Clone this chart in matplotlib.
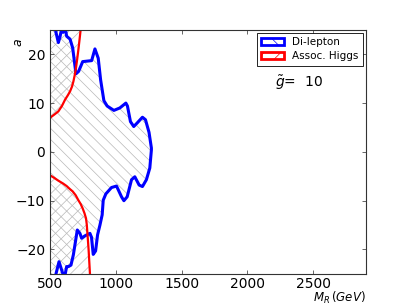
import matplotlib
matplotlib.use('Agg')
import matplotlib.pyplot as plt
from matplotlib.patches import Patch

# Di-lepton exclusion contour (upper branch then lower branch)
dilepton_x = [535, 545, 563, 575, 590, 600, 606, 615, 626, 652, 672, 685, 697, 717, 748,
              816, 841, 866, 884, 909, 934, 985, 1030, 1076, 1088, 1111, 1136, 1161, 1202,
              1225, 1252, 1270,
              1270, 1258, 1232, 1202, 1177, 1144, 1119, 1086, 1061, 1043, 1005, 967, 924,
              904, 896, 879, 861, 846, 828, 815, 803, 765, 740, 727, 707, 677, 659, 640,
              626, 612, 601, 568, 545, 538]
dilepton_y = [26, 24.5, 22.4, 23.5, 25.5, 24.5, 25.3, 25.5, 23.7, 23.1, 21.3, 18.5, 16.0,
              16.5, 18.5, 18.7, 21.1, 19.2, 14.8, 10.5, 9.4, 8.5, 9.0, 10.0, 9.4, 6.2, 5.2,
              5.9, 7.1, 6.6, 4.0, 0.8,
              0.4, -3.3, -5.7, -7.1, -6.8, -5.1, -5.7, -9.2, -10.0, -9.2, -7.0, -7.3, -8.6,
              -9.9, -12.9, -15.0, -17.0, -20.3, -21.0, -17.5, -16.7, -17.2, -17.7, -16.7,
              -16.0, -21.1, -23.2, -23.5, -23.5, -25.5, -25.3, -22.5, -25.0, -26]

# Associated Higgs contour
higgs_up_x = [500, 505, 530, 563, 590, 614, 635, 652, 667, 677, 688, 697, 706, 715, 724, 733, 737]
higgs_up_y = [6.9, 7.1, 7.6, 8.3, 9.4, 10.7, 11.6, 12.4, 13.4, 14.4, 15.8, 17.2, 19.0, 20.9,
              23.0, 25.2, 26]
higgs_lo_x = [500, 530, 563, 600, 626, 650, 672, 695, 715, 733, 748, 762, 773, 779, 783,
              788, 793, 798, 803, 805]
higgs_lo_y = [-4.8, -5.3, -5.9, -6.5, -7.0, -7.6, -8.1, -8.9, -9.9, -10.7, -11.6, -12.6,
              -13.6, -14.9, -16.4, -18.2, -20.1, -22.5, -24.9, -26]

xticks = [500, 1000, 1500, 2000, 2500]
yticks = [-20, -10, 0, 10, 20]

plt.rcParams['hatch.linewidth'] = 0.5
plt.rcParams['xtick.direction'] = 'in'
plt.rcParams['ytick.direction'] = 'in'

fig = plt.figure(figsize=(4.07, 3.05), dpi=100)
ax = fig.add_axes([0.123, 0.102, 0.776, 0.8])

# hatched exclusion regions
ax.fill([500] + dilepton_x + [500], [26] + dilepton_y + [-26],
        facecolor='none', edgecolor='0.72', hatch='\\\\\\', linewidth=0)
ax.fill(higgs_up_x + [500], higgs_up_y + [26],
        facecolor='none', edgecolor='0.72', hatch='///', linewidth=0)
ax.fill(higgs_lo_x + [500], higgs_lo_y + [-26],
        facecolor='none', edgecolor='0.72', hatch='///', linewidth=0)

ax.plot(dilepton_x, dilepton_y, color='blue', lw=2.2)
ax.plot(higgs_up_x, higgs_up_y, color='red', lw=1.6)
ax.plot(higgs_lo_x, higgs_lo_y, color='red', lw=1.6)

ax.set_xlim(500, 2900)
ax.set_ylim(-25, 25)
ax.set_xticks(xticks)
ax.set_yticks(yticks)
ax.tick_params(labelsize=10, top=True, right=True, length=3, width=0.6, color='0.3')
ax.tick_params(axis='x', pad=2)
for s in ax.spines.values():
    s.set_color('0.2')
    s.set_linewidth(0.8)

ax.set_xlabel(r'$M_R\,(GeV)$', fontsize=8.5, ha='right')
ax.xaxis.set_label_coords(1.0, -0.066)
ax.set_ylabel(r'$a$', fontsize=9)
ax.yaxis.set_label_coords(-0.08, 0.95)

handles = [Patch(facecolor='white', edgecolor='blue', lw=2, hatch='\\'),
           Patch(facecolor='white', edgecolor='red', lw=2, hatch='//')]
leg = ax.legend(handles, ['Di-lepton', 'Assoc. Higgs'], loc='upper right', fontsize=7.5,
                fancybox=False, framealpha=1, borderaxespad=0.3, handlelength=2.2,
                borderpad=0.4, labelspacing=0.4)
leg.get_frame().set_edgecolor('black')
leg.get_frame().set_linewidth(0.6)

ax.text(2212, 13.2, r'$\tilde{g}$=  10', fontsize=10)

fig.savefig('out.png', dpi=100)
